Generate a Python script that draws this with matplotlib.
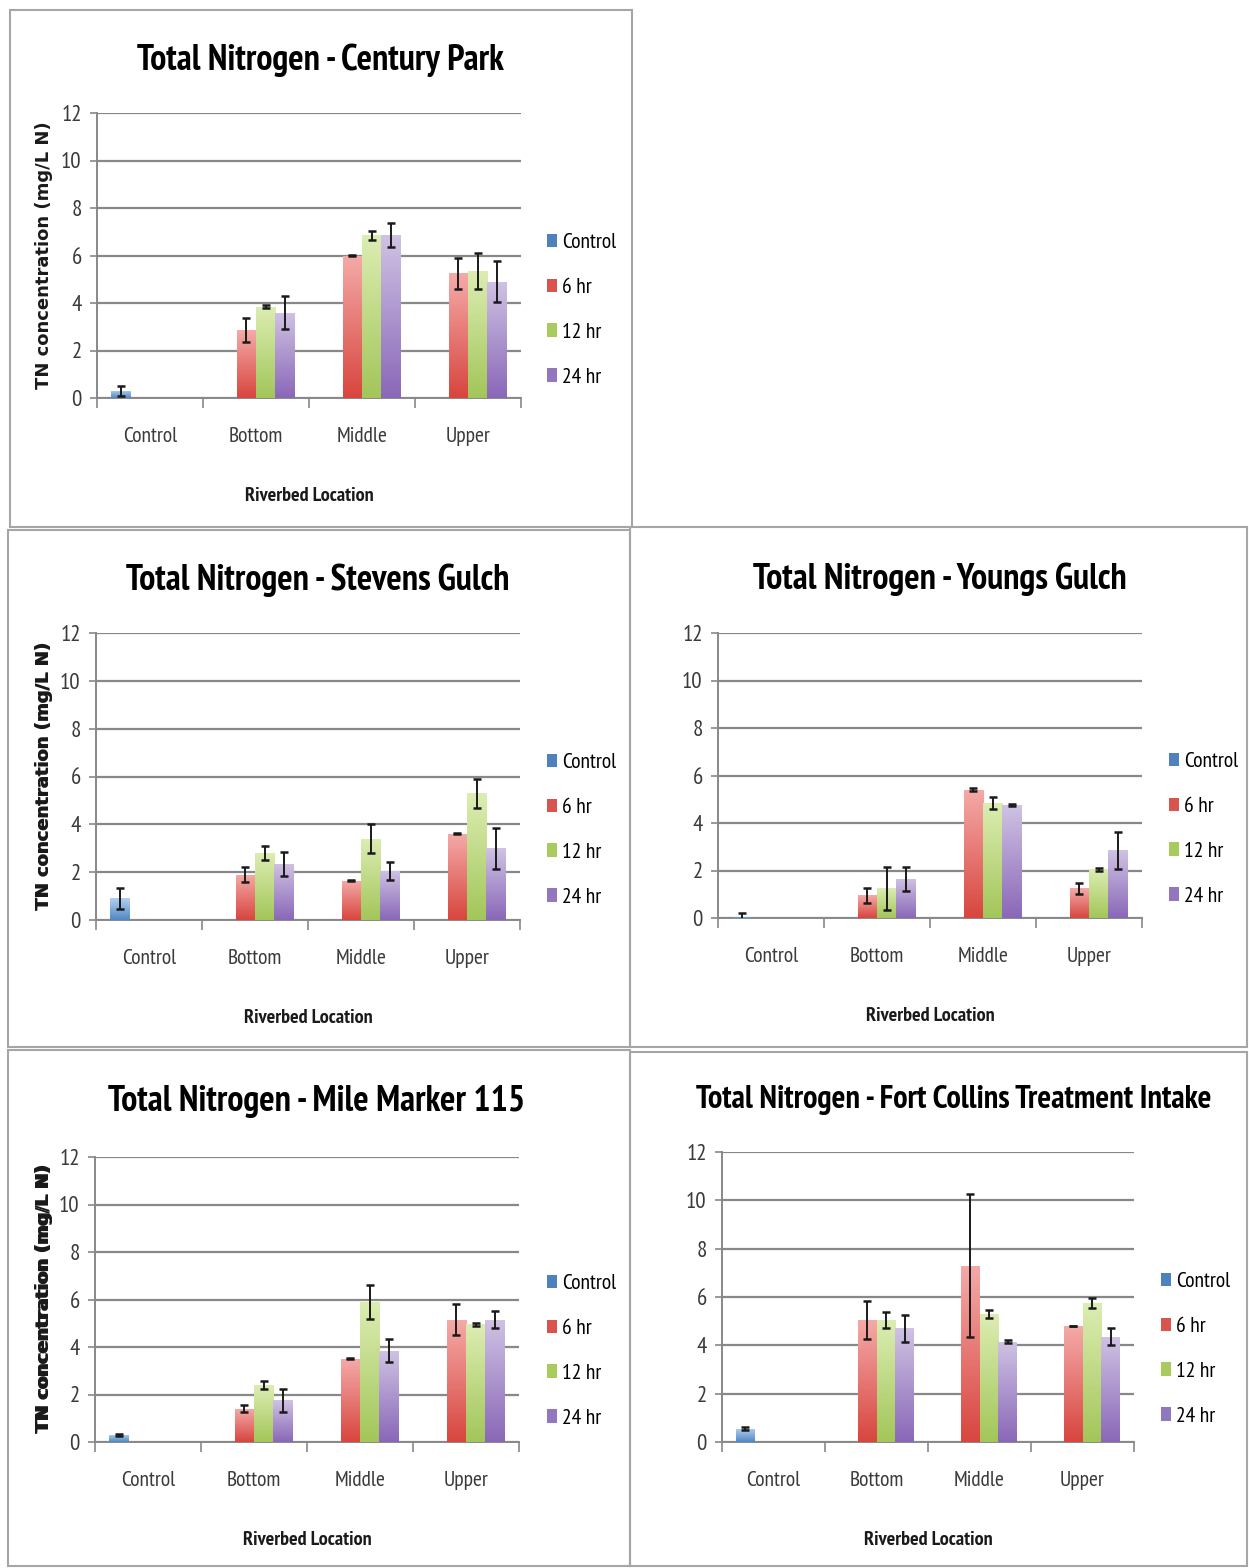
import numpy as np
import matplotlib
matplotlib.use("Agg")
import matplotlib.pyplot as plt
from matplotlib.patches import Rectangle, Patch
from matplotlib.colors import LinearSegmentedColormap

# Data (TN, mg/L N)
locations = ["Control", "Bottom", "Middle", "Upper"]
series = ["Control", "6 hr", "12 hr", "24 hr"]
sites = ["Century Park", "Stevens Gulch", "Youngs Gulch",
         "Mile Marker 115", "Fort Collins Treatment Intake"]

# control value / error per site
control_mean = [0.3, 0.9, 0.05, 0.3, 0.55]
control_err = [0.22, 0.45, 0.15, 0.03, 0.07]

# Bottom, Middle, Upper for each site
hr6_mean = [[2.85, 6.0, 5.25], [1.9, 1.65, 3.6], [0.95, 5.4, 1.25],
            [1.4, 3.5, 5.15], [5.05, 7.3, 4.8]]
hr6_err = [[0.5, 0.02, 0.65], [0.3, 0.02, 0.02], [0.3, 0.06, 0.22],
           [0.15, 0.02, 0.65], [0.8, 2.95, 0.02]]
hr12_mean = [[3.85, 6.85, 5.35], [2.8, 3.4, 5.3], [1.25, 4.85, 2.05],
             [2.4, 5.9, 4.95], [5.05, 5.3, 5.75]]
hr12_err = [[0.07, 0.2, 0.75], [0.3, 0.6, 0.6], [0.9, 0.25, 0.05],
            [0.15, 0.7, 0.06], [0.35, 0.15, 0.2]]
hr24_mean = [[3.6, 6.85, 4.9], [2.35, 2.05, 3.0], [1.65, 4.75, 2.85],
             [1.75, 3.85, 5.15], [4.7, 4.15, 4.35]]
hr24_err = [[0.7, 0.5, 0.85], [0.5, 0.38, 0.85], [0.5, 0.05, 0.77],
            [0.5, 0.5, 0.35], [0.55, 0.06, 0.35]]

# colours: (top, bottom) of each bar's gradient
grad_colors = [("#B3D0EE", "#5088C4"), ("#F4AAA8", "#D8463F"),
               ("#DCEDB2", "#A3C65A"), ("#CFC2E3", "#8A68B8")]
legend_colors = ["#4F81BD", "#D9534F", "#A9CB5E", "#9077BE"]

# layout in pixels of the 1249x1568 image
W, H = 1249, 1568
boxes = [(10, 10, 632, 527), (8, 530, 630, 1047), (630, 527, 1247, 1047),
         (8, 1050, 630, 1566), (630, 1052, 1247, 1566)]
axes_px = [(97, 113, 521, 398), (96, 633, 520, 920), (718, 633, 1142, 918),
           (95, 1157, 519, 1442), (722, 1152, 1134, 1442)]
title_px = [(320, 60), (318, 580), (940, 579), (317, 1101), (954, 1100)]
title_size = [26, 26, 26, 26, 23.3]
legend_px = [(547, 310), (547, 830), (1169, 829), (547, 1351), (1161, 1349)]

narrow = ["PT Sans Narrow", "Carlito", "DejaVu Sans"]
tick_gray = "#3a3a3a"
grid_gray = "#888888"

fig = plt.figure(figsize=(W / 100, H / 100), dpi=100)


def fx(x):
    return x / W


def fy(y):
    return 1 - y / H


def gradient_bars(ax, bars, top, bottom):
    cmap = LinearSegmentedColormap.from_list("g", [bottom, top])
    grad = np.linspace(0, 1, 64).reshape(-1, 1)
    for b in bars:
        h = b.get_height()
        if not np.isfinite(h) or h <= 0:
            continue
        x0, w = b.get_x(), b.get_width()
        im = ax.imshow(grad, cmap=cmap, extent=[x0, x0 + w, 0, h],
                       origin="lower", aspect="auto", zorder=3,
                       interpolation="bilinear")
        im.set_clip_path(b)


for i, site in enumerate(sites):
    # panel frame
    x0, y0, x1, y1 = boxes[i]
    fig.patches.append(Rectangle((fx(x0), fy(y1)), fx(x1) - fx(x0), fy(y0) - fy(y1),
                                 transform=fig.transFigure, fill=False,
                                 edgecolor="#A6A6A6", linewidth=1.5))

    l, t, r, b = axes_px[i]
    ax = fig.add_axes([fx(l), fy(b), fx(r) - fx(l), fy(t) - fy(b)])

    x = np.arange(len(locations))
    w = 1 / (len(series) + 1.5)
    offs = (np.arange(len(series)) - 1.5) * w

    nan = np.nan
    means = [[control_mean[i], nan, nan, nan],
             [nan] + hr6_mean[i], [nan] + hr12_mean[i], [nan] + hr24_mean[i]]
    errs = [[control_err[i], nan, nan, nan],
            [nan] + hr6_err[i], [nan] + hr12_err[i], [nan] + hr24_err[i]]

    for k in range(len(series)):
        m = np.array(means[k], dtype=float)
        e = np.array(errs[k], dtype=float)
        bars = ax.bar(x + offs[k], np.nan_to_num(m), w, color=grad_colors[k][1],
                      zorder=2, linewidth=0)
        gradient_bars(ax, bars, *grad_colors[k])
        ax.errorbar(x + offs[k], m, yerr=e, fmt="none", ecolor="#1a1a1a",
                    elinewidth=1.4, capsize=3, capthick=1.8, zorder=5)

    ax.set_xlim(-0.5, 3.5)
    ax.set_ylim(0, 12)
    ax.set_yticks(range(0, 13, 2))
    ax.yaxis.grid(True, color=grid_gray, linewidth=1.6, zorder=0)
    ax.set_axisbelow(True)
    for s in ["top", "right"]:
        ax.spines[s].set_visible(False)
    for s in ["left", "bottom"]:
        ax.spines[s].set_color(grid_gray)
        ax.spines[s].set_linewidth(1.4)

    ax.set_xticks(np.arange(-0.5, 4, 1))
    ax.set_xticklabels([])
    ax.tick_params(axis="x", which="major", length=7, color=grid_gray, width=1.2)
    ax.set_xticks(x, minor=True)
    ax.set_xticklabels(locations, minor=True, fontsize=15.5, color=tick_gray,
                       family=narrow)
    ax.tick_params(axis="x", which="minor", length=0, pad=21)
    ax.tick_params(axis="y", length=5, color=grid_gray, width=1.2, pad=6,
                   labelsize=16.5, labelcolor=tick_gray)
    for lab in ax.get_yticklabels():
        lab.set_family(narrow)

    ax.set_ylabel("TN concentration (mg/L N)", fontsize=13, fontweight="bold",
                  family="DejaVu Sans", color="#1a1a1a")
    ax.yaxis.set_label_coords((53 - l) / (r - l), 0.5)
    ax.set_xlabel("Riverbed Location", fontsize=14.5, fontweight="bold",
                  family=narrow, color="#1a1a1a")
    ax.xaxis.set_label_coords(0.5, -89 / (b - t))

    tx, ty = title_px[i]
    fig.text(fx(tx), fy(ty), "Total Nitrogen - " + site, ha="center", va="center",
             fontsize=title_size[i], fontweight="bold", family=narrow, color="black")

    handles = [Patch(facecolor=c, edgecolor="none") for c in legend_colors]
    lx, ly = legend_px[i]
    ax.legend(handles, series, loc="center left",
              bbox_to_anchor=((lx - l) / (r - l), (b - ly) / (b - t)),
              frameon=False, borderpad=0, borderaxespad=0, handlelength=0.45,
              handleheight=0.6, handletextpad=0.25, labelspacing=1.2,
              prop={"family": narrow, "size": 15.5})

fig.savefig("out.png", dpi=100, facecolor="white")
